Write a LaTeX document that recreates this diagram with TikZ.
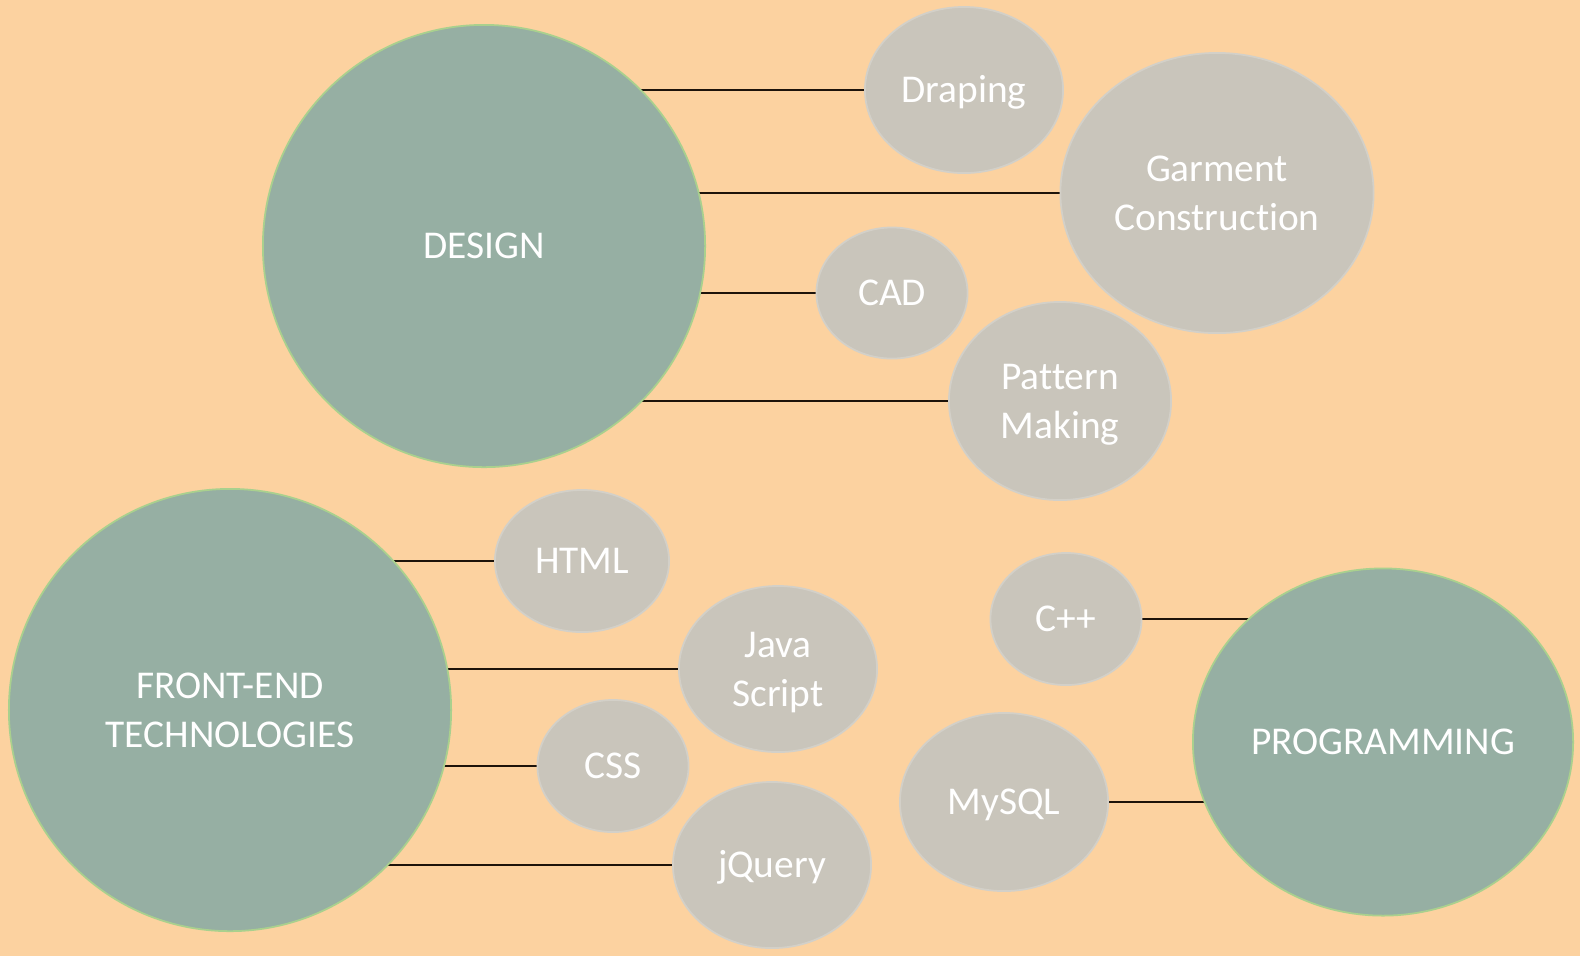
\documentclass[tikz,border=0pt]{standalone}
\usepackage{fontspec}
\setmainfont[Ligatures=NoCommon]{Carlito}
\usetikzlibrary{shapes.geometric}
\definecolor{peach}{HTML}{FCD2A0}
\definecolor{sage}{HTML}{96AFA3}
\definecolor{sageline}{HTML}{A9D08E}
\definecolor{stone}{HTML}{C9C5BB}
\definecolor{stoneline}{HTML}{D3D0C8}
\pgfdeclarelayer{bg}
\pgfdeclarelayer{edges}
\pgfsetlayers{bg,edges,main}
\tikzset{
  bubble/.style={ellipse, inner sep=0pt, text=white, align=center,
    text height=7.2pt, text depth=0pt,
    font=\fontsize{11.2}{13.9}\selectfont},
  twolines/.style={text height=21.1pt},
  topic/.style={bubble, fill=sage, draw=sageline, line width=0.5pt},
  skill/.style={bubble, fill=stone, draw=stoneline, line width=0.5pt},
  link/.style={draw=black!85!brown, line width=0.35pt}
}
\begin{document}
\begin{tikzpicture}[x=0.01cm, y=-0.01cm]
  \begin{pgfonlayer}{bg}
    \fill[peach] (0,0) rectangle (1580,956);
  \end{pgfonlayer}
  \useasboundingbox (0,0) rectangle (1580,956);

  % design cluster
  \node[topic, minimum width=4.42cm, minimum height=4.42cm] (design) at (484,246) {DESIGN};
  \node[skill, minimum width=1.98cm, minimum height=1.66cm] (draping) at (964,90) {Draping};
  \node[skill, twolines, minimum width=3.13cm, minimum height=2.80cm] (garment) at (1217,193) {Garment\\Construction};
  \node[skill, minimum width=1.51cm, minimum height=1.31cm] (cad) at (892,293) {CAD};
  \node[skill, twolines, minimum width=2.22cm, minimum height=1.98cm] (pattern) at (1060,401) {Pattern\\Making};

  % front-end cluster
  \node[topic, twolines, minimum width=4.42cm, minimum height=4.42cm] (frontend) at (230,710) {FRONT-END\\TECHNOLOGIES};
  \node[skill, minimum width=1.74cm, minimum height=1.42cm] (html) at (582,561) {HTML};
  \node[skill, twolines, minimum width=1.98cm, minimum height=1.66cm] (java) at (778,669) {Java\\Script};
  \node[skill, minimum width=1.51cm, minimum height=1.32cm] (css) at (613,766) {CSS};
  \node[skill, minimum width=1.98cm, minimum height=1.66cm] (jquery) at (772,865) {jQuery};

  % programming cluster
  \node[topic, minimum width=3.80cm, minimum height=3.47cm] (prog) at (1383,742) {PROGRAMMING};
  \node[skill, minimum width=1.51cm, minimum height=1.32cm] (cpp) at (1066,619) {C++};
  \node[skill, minimum width=2.08cm, minimum height=1.78cm] (mysql) at (1004,802) {MySQL};

  \begin{pgfonlayer}{edges}
    \foreach \s in {draping,garment,cad,pattern}
      \draw[link] (\s.west) -- (\s.west -| design.center);
    \foreach \s in {html,java,css,jquery}
      \draw[link] (\s.west) -- (\s.west -| frontend.center);
    \foreach \s in {cpp,mysql}
      \draw[link] (\s.east) -- (\s.east -| prog.center);
  \end{pgfonlayer}
\end{tikzpicture}
\end{document}
